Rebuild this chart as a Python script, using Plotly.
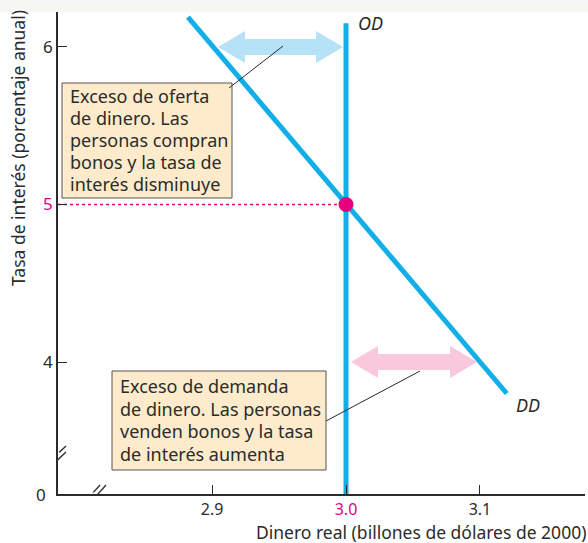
import plotly.graph_objects as go

# Data
money_ticks = [2.9, 3.0, 3.1]
rate_ticks = [4, 5, 6]

dd_money = [2.882, 3.120]          # demand for money (DD)
dd_rate = [6.19, 3.80]
od_money = [3.0, 3.0]              # supply of money (OD)
od_rate = [6.15, 3.16]
eq_money = 3.0                     # equilibrium
eq_rate = 5.0

supply_excess_money = [2.9045, 2.9978]   # blue arrow at 6 %
supply_excess_rate = 6.0
demand_excess_money = [3.0037, 3.0978]   # pink arrow at 4 %
demand_excess_rate = 4.0

supply_note = ['Exceso de oferta', 'de dinero. Las', 'personas compran',
               'bonos y la tasa de', 'interés disminuye']
demand_note = ['Exceso de demanda', 'de dinero. Las personas',
               'venden bonos y la tasa', 'de interés aumenta']

W, H = 588, 543
L, R, T, B = 58, 3, 12, 49
X_RANGE = [2.785, 3.1784]
Y_RANGE = [3.162, 6.222]

BLUE = '#12aee8'
MAGENTA = '#e6007e'
DARK = '#2b2b2b'
FONT = 'Noto Sans'
PW, PH = W - L - R, H - T - B


def px_x(px):
    return X_RANGE[0] + (px - L) / PW * (X_RANGE[1] - X_RANGE[0])


def px_y(py):
    return Y_RANGE[1] - (py - T) / PH * (Y_RANGE[1] - Y_RANGE[0])


def fat_arrow(x0, x1, yc, head_px=27, head_h=16, body_h=8):
    hx = head_px / PW * (X_RANGE[1] - X_RANGE[0])
    dy = (Y_RANGE[1] - Y_RANGE[0]) / PH
    hh, bh = head_h * dy, body_h * dy
    xs = [x0, x0 + hx, x0 + hx, x1 - hx, x1 - hx, x1, x1 - hx, x1 - hx, x0 + hx, x0 + hx, x0]
    ys = [yc, yc + hh, yc + bh, yc + bh, yc + hh, yc, yc - hh, yc - bh, yc - bh, yc - hh, yc]
    return xs, ys


fig = go.Figure()

xs, ys = fat_arrow(*supply_excess_money, supply_excess_rate)
fig.add_trace(go.Scatter(x=xs, y=ys, fill='toself', fillcolor='#b5e2f7',
                         line=dict(width=0), mode='lines', hoverinfo='skip'))
xs, ys = fat_arrow(*demand_excess_money, demand_excess_rate)
fig.add_trace(go.Scatter(x=xs, y=ys, fill='toself', fillcolor='#f8c8dc',
                         line=dict(width=0), mode='lines', hoverinfo='skip'))

# dotted guide to the equilibrium rate
fig.add_trace(go.Scatter(x=[X_RANGE[0], eq_money], y=[eq_rate, eq_rate], mode='lines',
                         line=dict(color=MAGENTA, width=1.5, dash='dot')))

fig.add_trace(go.Scatter(x=dd_money, y=dd_rate, mode='lines', line=dict(color=BLUE, width=5)))
fig.add_trace(go.Scatter(x=od_money, y=od_rate, mode='lines', line=dict(color=BLUE, width=5)))
fig.add_trace(go.Scatter(x=[eq_money], y=[eq_rate], mode='markers',
                         marker=dict(color=MAGENTA, size=15)))

shapes = [
    # faint strip at top
    dict(type='rect', xref='paper', yref='paper', x0=-L / PW, x1=1 + R / PW,
         y0=1, y1=1 + T / PH, fillcolor='#f7f7f4', line=dict(width=0), layer='below'),
    # note boxes
    dict(type='rect', x0=px_x(62), y0=px_y(83), x1=px_x(232), y1=px_y(198),
         fillcolor='#fdebcb', line=dict(color='#555', width=1)),
    dict(type='rect', x0=px_x(112), y0=px_y(371), x1=px_x(326), y1=px_y(470),
         fillcolor='#fdebcb', line=dict(color='#555', width=1)),
    # leader lines
    dict(type='line', x0=px_x(229), y0=px_y(88), x1=px_x(283), y1=px_y(46),
         line=dict(color=DARK, width=1)),
    dict(type='line', x0=px_x(326), y0=px_y(421), x1=px_x(420), y1=px_y(371),
         line=dict(color=DARK, width=1)),
]
# axis break marks
for off in (0, 6):
    shapes.append(dict(type='line', x0=px_x(50), y0=px_y(461 + off), x1=px_x(66), y1=px_y(446 + off),
                       line=dict(color=DARK, width=1.3)))
    shapes.append(dict(type='line', x0=px_x(84 + off), y0=px_y(503), x1=px_x(100 + off), y1=px_y(485),
                       line=dict(color=DARK, width=1.3)))
shapes.append(dict(type='line', x0=px_x(58), y0=px_y(452), x1=px_x(58), y1=px_y(457),
                   line=dict(color='white', width=3)))
shapes.append(dict(type='line', x0=px_x(90), y0=px_y(494), x1=px_x(96), y1=px_y(494),
                   line=dict(color='white', width=3)))

box_font = dict(family=FONT, size=18, color=DARK)
annotations = []
for i, line in enumerate(supply_note):
    annotations.append(dict(x=px_x(68), y=px_y(96 + 22 * i), xanchor='left', yanchor='middle',
                            showarrow=False, text=line, font=box_font))
for i, line in enumerate(demand_note):
    annotations.append(dict(x=px_x(118), y=px_y(386 + 22.5 * i), xanchor='left', yanchor='middle',
                            showarrow=False, text=line, font=box_font))

annotations += [
    dict(x=px_x(356), y=px_y(23), xanchor='left', yanchor='middle', showarrow=False,
         text='<i>OD</i>', font=dict(family=FONT, size=18, color=DARK)),
    dict(x=px_x(514), y=px_y(405), xanchor='left', yanchor='middle', showarrow=False,
         text='<i>DD</i>', font=dict(family=FONT, size=18, color=DARK)),
    dict(xref='paper', yref='paper', x=-10 / PW, y=0, xanchor='right', yanchor='middle',
         showarrow=False, text='0', font=dict(family=FONT, size=17, color=DARK)),
    dict(xref='paper', yref='paper', x=1 + R / PW, y=-37.5 / PH, xanchor='right',
         yanchor='middle', showarrow=False, text='Dinero real (billones de dólares de 2000)',
         font=dict(family=FONT, size=17.5, color=DARK)),
    dict(xref='paper', yref='paper', x=-40 / PW, y=(H - B - 148) / PH,
         xanchor='center', yanchor='middle', textangle=-90, showarrow=False,
         text='Tasa de interés (porcentaje anual)', font=dict(family=FONT, size=17.5, color=DARK)),
]

fig.update_layout(
    width=W, height=H,
    margin=dict(l=L, r=R, t=T, b=B),
    paper_bgcolor='white', plot_bgcolor='white',
    showlegend=False,
    shapes=shapes,
    annotations=annotations,
    xaxis=dict(range=X_RANGE, tickvals=money_ticks,
               ticktext=['2.9', f'<span style="color:{MAGENTA}">3.0</span>', '3.1'],
               ticks='inside', ticklen=9, tickcolor=DARK, showline=True, linecolor=DARK,
               linewidth=1.5, showgrid=False, zeroline=False, ticklabelstandoff=0,
               tickfont=dict(family=FONT, size=16, color=DARK)),
    yaxis=dict(range=Y_RANGE, tickvals=rate_ticks,
               ticktext=['4', f'<span style="color:{MAGENTA}">5</span>', '6'],
               ticks='inside', ticklen=9, tickcolor=DARK, showline=True, linecolor=DARK,
               linewidth=1.5, showgrid=False, zeroline=False,
               tickfont=dict(family=FONT, size=17, color=DARK)),
)

fig.write_html("out.html", config={'displayModeBar': False},
               post_script="document.body.style.margin='0';")
